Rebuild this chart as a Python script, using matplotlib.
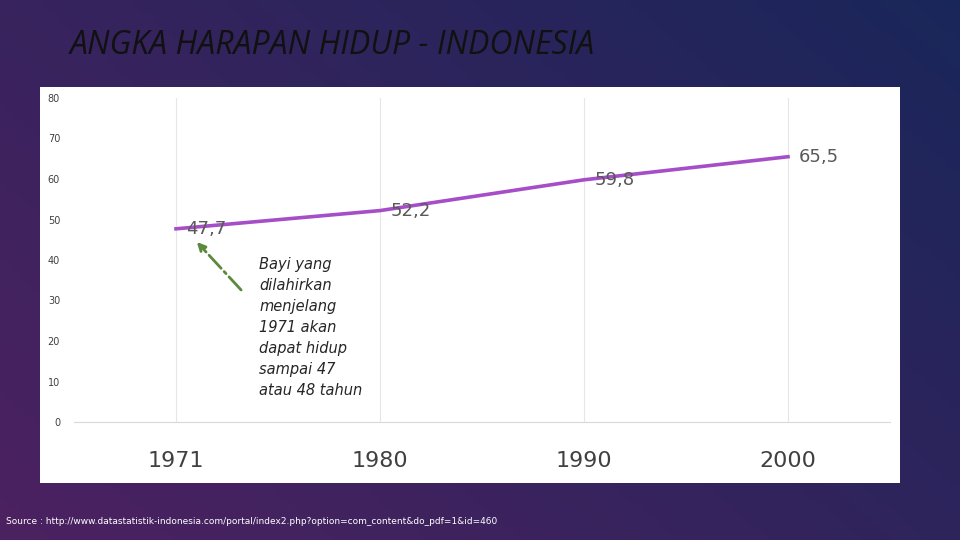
import matplotlib
matplotlib.use("Agg")
import matplotlib.pyplot as plt
import numpy as np
from matplotlib.patches import Rectangle

years = ["1971", "1980", "1990", "2000"]
values = [47.7, 52.2, 59.8, 65.5]
labels = ["47,7", "52,2", "59,8", "65,5"]
yticks = [0, 10, 20, 30, 40, 50, 60, 70, 80]

fig = plt.figure(figsize=(9.6, 5.4), dpi=100)
bg = fig.add_axes([0, 0, 1, 1], zorder=-10)
gx = np.linspace(0, 1, 200)
gy = np.linspace(0, 1, 120)
X, Y = np.meshgrid(gx, gy)
c1 = np.array([0.30, 0.13, 0.38])
c2 = np.array([0.10, 0.15, 0.35])
t = (0.6 * X + 0.4 * (1 - Y))[..., None]
img = c1 * (1 - t) + c2 * t
bg.imshow(img, extent=[0, 1, 0, 1], aspect="auto", origin="upper")
bg.add_patch(Rectangle((40/960, 1-483/540), 860/960, 396/540,
                       facecolor="white", zorder=5))
bg.set_xlim(0, 1); bg.set_ylim(0, 1)
bg.axis("off")

fig.text(70/960, 1-45/540, "ANGKA HARAPAN HIDUP - INDONESIA", fontsize=23,
         style="italic", color="#111111", va="center", ha="left",
         family="Open Sans")
fig.text(6/960, 1-522/540,
         "Source : http://www.datastatistik-indonesia.com/portal/index2.php?option=com_content&do_pdf=1&id=460",
         fontsize=6.5, color="white", va="center")

ax = fig.add_axes([74/960, 1-422/540, 816/960, 324/540])
ax.set_facecolor("none")
x = np.arange(len(years))
ax.plot(x, values, color="#a64dc8", lw=2.6, zorder=3)
for xi, v, l in zip(x, values, labels):
    ax.annotate(l, (xi, v), xytext=(22, 0), textcoords="offset points", fontsize=13,
                color="#595959", ha="center", va="center")
ax.set_xlim(-0.5, 3.5)
ax.set_ylim(0, 80)
for xi in x:
    ax.axvline(xi, color="#e6e6e6", lw=0.8, zorder=1)
ax.set_xticks(x)
ax.set_xticklabels(years, fontsize=16, color="#404040")
ax.set_yticks(yticks)
ax.set_yticklabels([str(v) for v in yticks], fontsize=7, color="#404040")
ax.tick_params(length=0, pad=21, axis="x")
ax.tick_params(length=0, pad=10, axis="y")
for s in ["top", "right", "left"]:
    ax.spines[s].set_visible(False)
ax.spines["bottom"].set_color("#d9d9d9")

ax.annotate("", xy=(195/960, 1-240/540), xytext=(243/960, 1-292/540),
            xycoords="figure fraction", textcoords="figure fraction",
            arrowprops=dict(arrowstyle="-|>", color="#5a8a3a", lw=2, ls="-.",
                            mutation_scale=12))
fig.text(259/960, 1-257/540,
         "Bayi yang\ndilahirkan\nmenjelang\n1971 akan\ndapat hidup\nsampai 47\natau 48 tahun",
         fontsize=10.5, style="italic", color="#262626", va="top", ha="left", linespacing=1.5)

fig.savefig("out.png", dpi=100)
